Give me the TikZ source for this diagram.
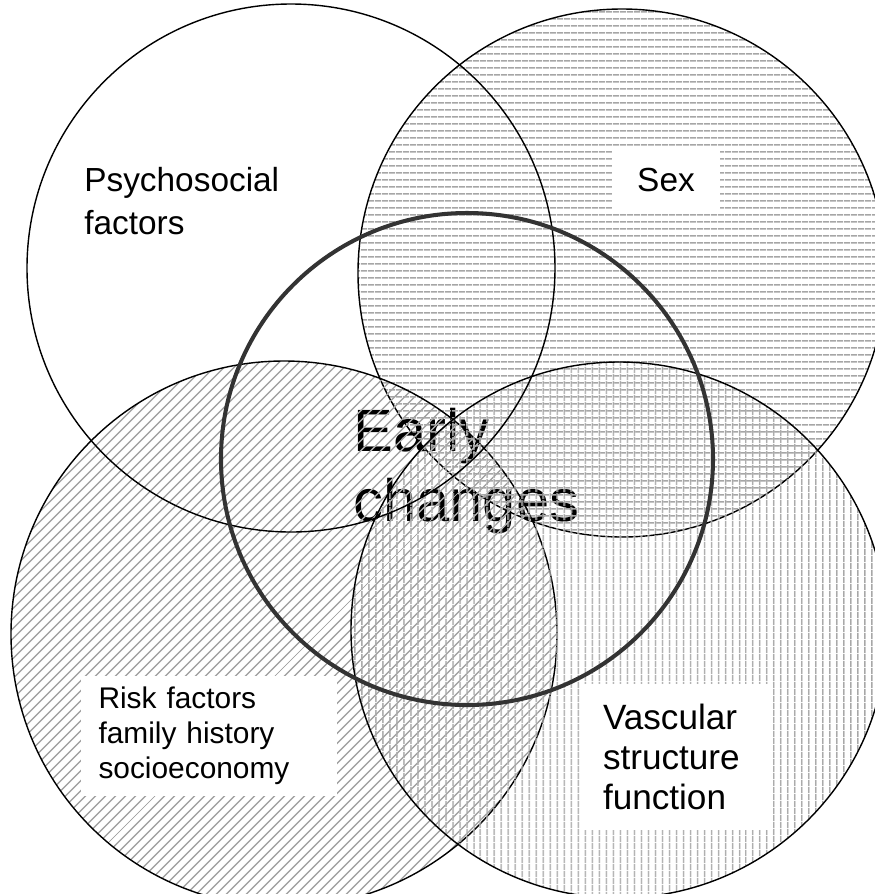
\documentclass[tikz,border=0pt]{standalone}
\usepackage{fontspec}
\setmainfont{Liberation Sans}
\usetikzlibrary{patterns.meta}

\begin{document}
\begin{tikzpicture}[x=0.02cm, y=-0.02cm,
  ring/.style={draw=black, line width=0.8pt},
  core/.style={draw=black!80, line width=2.3pt},
  hlines/.style={pattern={Lines[angle=0, distance=4pt, line width=0.9pt]}, pattern color=black!35},
  dlines/.style={pattern={Lines[angle=45, distance=4pt, line width=0.9pt]}, pattern color=black!35},
  vlines/.style={pattern={Lines[angle=90, distance=4pt, line width=0.9pt]}, pattern color=black!35},
  tag/.style={fill=white, inner sep=0pt, align=left}]

\useasboundingbox (0,0) rectangle (875,894);
\clip (0,0) rectangle (875,894);

% Centre text (lies under the hatching)
\node[anchor=west, inner sep=0pt, align=left, font=\fontsize{34}{40}\selectfont] (early) at (353,471) {Early\\changes};

% Hatched circles
\draw[ring, hlines] (622,273) circle[radius=264];
\draw[ring, dlines] (284,634) circle[radius=273];
\draw[ring, vlines] (619,630) circle[radius=268];

% Plain circles
\draw[ring] (291,268) circle[radius=264];
\draw[core] (467,459) circle[radius=246];

% Labels
\node[tag, anchor=west, fill=none, font=\fontsize{19}{24}\selectfont] (psycho) at (84,201) {Psychosocial\\factors};
\node[tag, align=center, minimum width=2.16cm, minimum height=1.3cm, font=\fontsize{19}{23}\selectfont] (sex) at (666,180) {Sex};
\node[tag, minimum width=5.14cm, minimum height=2.4cm, text width=4.42cm, font=\fontsize{17}{20}\selectfont] (risk) at (209,736) {Risk factors\\family history\\socioeconomy};
\node[tag, minimum width=3.8cm, minimum height=2.94cm, text width=3.0cm, font=\fontsize{20}{23}\selectfont] (vasc) at (678,757) {Vascular\\structure\\function};

\end{tikzpicture}
\end{document}
